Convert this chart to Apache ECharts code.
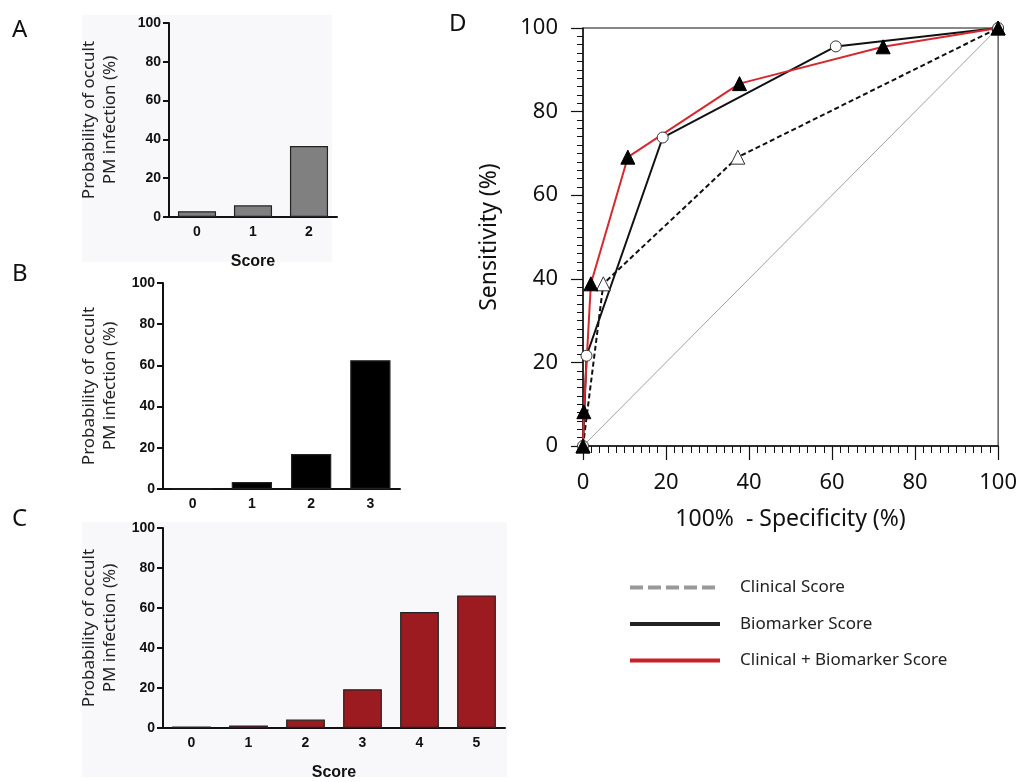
<!DOCTYPE html>
<html>
<head>
<meta charset="utf-8">
<script src="https://cdn.jsdelivr.net/npm/echarts@6/dist/echarts.min.js"></script>
<style>
  html, body { margin: 0; padding: 0; background: #fff; }
  #main { width: 1020px; height: 782px; }
</style>
</head>
<body>
<div id="main"></div>
<script>
// bar panels: score -> probability of occult PM infection (%)
const scoresA = ['0', '1', '2'];
const probA = [3, 6, 36.6];
const scoresB = ['0', '1', '2', '3'];
const probB = [0, 3.4, 17, 62.5];
const scoresC = ['0', '1', '2', '3', '4', '5'];
const probC = [0.7, 1.3, 4.2, 19.4, 58, 66.3];

// ROC curves: [100% - specificity, sensitivity]
const clinicalFpr = [0, 4.9, 37.3, 100];
const clinicalSens = [0, 38.8, 69.1, 100];
const biomarkerFpr = [0, 0.85, 19.2, 60.9, 100];
const biomarkerSens = [0, 21.6, 73.8, 95.6, 100];
const combinedFpr = [0, 0.2, 1.9, 10.8, 37.7, 72.3, 100];
const combinedSens = [0, 8.2, 38.8, 69.1, 86.7, 95.5, 100];
const chanceLine = [0, 100];

const seriesNames = ['Clinical Score', 'Biomarker Score', 'Clinical + Biomarker Score'];
const yTitle = 'Probability of occult\nPM infection (%)';

function pairs(xs, ys) {
  return xs.map((x, i) => [x, ys[i]]);
}

const barFont = 'Liberation Sans, Arial, sans-serif';
const textFont = 'Noto Sans, Open Sans, sans-serif';

// 共用的柱状图坐标轴
function barX(idx, data, showName) {
  return {
    type: 'category', gridIndex: idx, data: data,
    axisLine: { lineStyle: { color: '#111', width: 2 } },
    axisTick: { alignWithLabel: true, length: 5, lineStyle: { color: '#111', width: 2 } },
    axisLabel: { color: '#111', fontWeight: 'bold', fontSize: 14, fontFamily: barFont, margin: 8 },
    name: showName ? 'Score' : '',
    nameLocation: 'middle', nameGap: 37,
    nameTextStyle: { color: '#111', fontWeight: 'bold', fontSize: 16, fontFamily: barFont }
  };
}
function barY(idx, gap) {
  return {
    type: 'value', gridIndex: idx, min: 0, max: 100, interval: 20,
    axisLine: { show: true, lineStyle: { color: '#111', width: 2 } },
    axisTick: { show: true, length: 6, lineStyle: { color: '#111', width: 2 } },
    splitLine: { show: false },
    axisLabel: { color: '#111', fontWeight: 'bold', fontSize: 14, fontFamily: barFont, margin: 8 },
    name: yTitle, nameLocation: 'middle', nameGap: gap,
    nameTextStyle: { color: '#222', fontSize: 17, fontFamily: textFont, lineHeight: 21 }
  };
}
function barSeries(idx, data, color) {
  return {
    type: 'bar', xAxisIndex: idx, yAxisIndex: idx, data: data,
    barWidth: '68%',
    itemStyle: { color: color, borderColor: '#222', borderWidth: 1.2 }
  };
}

const myChart = echarts.init(document.getElementById('main'));
const option = {
  animation: false,
  backgroundColor: '#fff',
  title: [
    { text: 'A', left: 7, top: 13 },
    { text: 'B', left: 7, top: 257 },
    { text: 'C', left: 7, top: 502 },
    { text: 'D', left: 444, top: 7 }
  ].map(t => Object.assign(t, {
    textStyle: { fontFamily: textFont, fontWeight: 'normal', fontSize: 24, color: '#111' }
  })),
  graphic: [
    { type: 'rect', shape: { x: 82, y: 15, width: 250, height: 247 }, style: { fill: '#f8f8fb' }, silent: true, z: -10 },
    { type: 'rect', shape: { x: 82, y: 522, width: 425, height: 255 }, style: { fill: '#f8f8fb' }, silent: true, z: -10 }
  ],
  legend: {
    orient: 'vertical', left: 628, top: 579,
    itemWidth: 90, itemHeight: 14, itemGap: 19.5, padding: 0,
    textStyle: { fontFamily: textFont, fontSize: 17, color: '#222', padding: [0, 0, 0, 15] },
    data: [
      { name: seriesNames[0], itemStyle: { opacity: 0 }, lineStyle: { color: '#999', width: 4, type: [13, 5] } },
      { name: seriesNames[1], itemStyle: { opacity: 0 }, lineStyle: { color: '#222', width: 4, type: 'solid' } },
      { name: seriesNames[2], itemStyle: { opacity: 0 }, lineStyle: { color: '#c8202a', width: 4, type: 'solid' } }
    ]
  },
  grid: [
    { left: 169, top: 23, width: 168, height: 194 },
    { left: 163, top: 283, width: 237, height: 206 },
    { left: 163, top: 528, width: 342, height: 206 },
    { left: 583, top: 28, width: 418, height: 418, show: true, borderColor: '#111', borderWidth: 1 }
  ],
  xAxis: [
    barX(0, scoresA, true),
    barX(1, scoresB, false),
    barX(2, scoresC, true),
    {
      type: 'value', gridIndex: 3, min: 0, max: 100, interval: 20,
      axisLine: { lineStyle: { color: '#111', width: 1.5 } },
      axisTick: { length: 14, lineStyle: { color: '#111', width: 1.2 } },
      minorTick: { show: true, splitNumber: 10, length: 7, lineStyle: { color: '#111', width: 1 } },
      splitLine: { show: false },
      axisLabel: { color: '#111', fontSize: 22, fontFamily: textFont, margin: 26 },
      name: '100%  - Specificity (%)', nameLocation: 'middle', nameGap: 62,
      nameTextStyle: { color: '#111', fontSize: 23, fontFamily: textFont }
    }
  ],
  yAxis: [
    barY(0, 48),
    barY(1, 42),
    barY(2, 42),
    {
      type: 'value', gridIndex: 3, min: 0, max: 100, interval: 20,
      axisLine: { show: true, lineStyle: { color: '#111', width: 1.5 } },
      axisTick: { show: true, length: 12, lineStyle: { color: '#111', width: 1.2 } },
      minorTick: { show: true, splitNumber: 10, length: 6, lineStyle: { color: '#111', width: 1 } },
      splitLine: { show: false },
      axisLabel: { color: '#111', fontSize: 22, fontFamily: textFont, margin: 25 },
      name: 'Sensitivity (%)', nameLocation: 'middle', nameGap: 82,
      nameTextStyle: { color: '#111', fontSize: 23, fontFamily: textFont }
    }
  ],
  series: [
    barSeries(0, probA, '#808080'),
    barSeries(1, probB, '#000'),
    barSeries(2, probC, '#9b1b20'),
    {
      type: 'line', xAxisIndex: 3, yAxisIndex: 3, data: pairs(chanceLine, chanceLine),
      symbol: 'none', lineStyle: { color: '#888', width: 0.8 }, silent: true
    },
    {
      name: seriesNames[0], type: 'line', xAxisIndex: 3, yAxisIndex: 3,
      data: pairs(clinicalFpr, clinicalSens),
      symbol: 'triangle', symbolSize: 14,
      itemStyle: { color: '#fff', borderColor: '#333', borderWidth: 1 },
      lineStyle: { color: '#111', width: 2, type: [5, 3] }
    },
    {
      name: seriesNames[1], type: 'line', xAxisIndex: 3, yAxisIndex: 3,
      data: pairs(biomarkerFpr, biomarkerSens),
      symbol: 'circle', symbolSize: 11,
      itemStyle: { color: '#fff', borderColor: '#333', borderWidth: 1 },
      lineStyle: { color: '#111', width: 2 }
    },
    {
      name: seriesNames[2], type: 'line', xAxisIndex: 3, yAxisIndex: 3,
      data: pairs(combinedFpr, combinedSens),
      symbol: 'triangle', symbolSize: 14,
      itemStyle: { color: '#000', borderColor: '#000', borderWidth: 1 },
      lineStyle: { color: '#d42a2f', width: 2 }
    }
  ]
};
myChart.setOption(option);
</script>
</body>
</html>
